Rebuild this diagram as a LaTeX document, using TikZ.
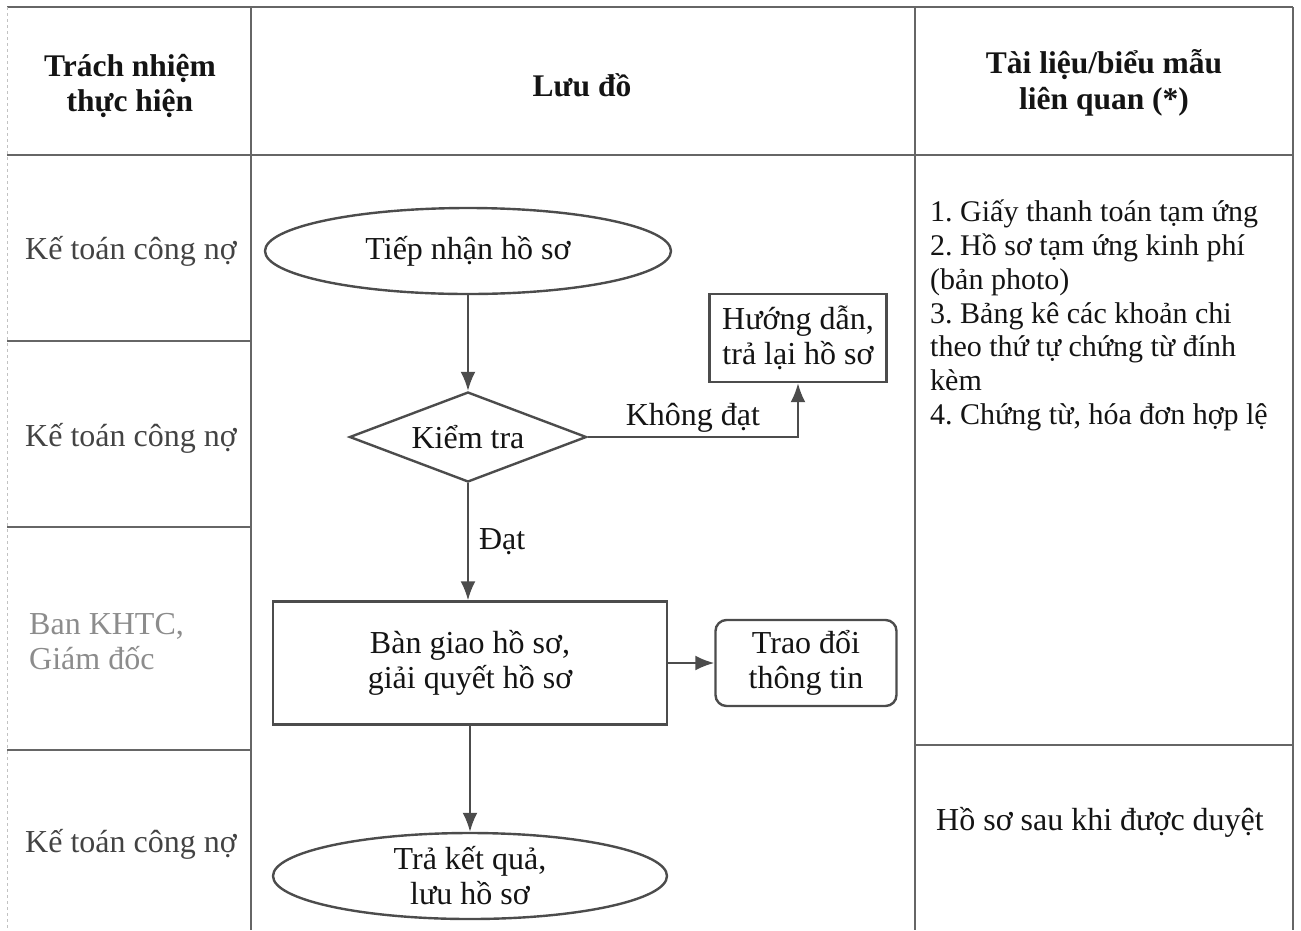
\documentclass[tikz,border=0pt]{standalone}
\usepackage{fontspec}
\setmainfont{Liberation Serif}
\usetikzlibrary{shapes.geometric, arrows.meta, positioning}
\definecolor{rulegray}{gray}{0.40}
\definecolor{edgegray}{gray}{0.30}
\definecolor{ink}{gray}{0.08}
\definecolor{paleink}{gray}{0.55}
\frenchspacing

\tikzset{
	txt/.style={font=\fontsize{32}{35}\selectfont, text=ink, align=center},
	headtxt/.style={font=\fontsize{31.5}{35.5}\selectfont\bfseries, text=ink, align=center},
	grid/.style={draw=rulegray, line width=1.6pt},
	terminal/.style={ellipse, draw=edgegray, line width=2.4pt, txt, inner sep=0pt},
	decision/.style={diamond, draw=edgegray, line width=2.4pt, txt, inner sep=0pt, aspect=2.6, minimum width=237pt, minimum height=90pt},
	process/.style={rectangle, draw=edgegray, line width=2.4pt, txt, inner sep=0pt},
	arr/.style={draw=edgegray, line width=2.2pt, -{Latex[length=19pt, width=15pt]}}
}

\begin{document}
\begin{tikzpicture}[x=1pt, y=-1pt]
	\useasboundingbox (0,0) rectangle (1301,930);
	
	% table
	\draw[grid] (7,7) -- (1293,7);
	\draw[grid] (7,155) -- (1293,155);
	\draw[grid] (251,7) -- (251,930);
	\draw[grid] (915,7) -- (915,930);
	\draw[grid] (1293,7) -- (1293,930);
	\draw[grid] (7,341) -- (251,341);
	\draw[grid] (7,527) -- (251,527);
	\draw[grid] (7,750) -- (251,750);
	\draw[grid] (915,745) -- (1293,745);
	\draw[draw=rulegray!40, line width=1pt, dashed] (7,7) -- (7,930);
	
	% headers
	\node[headtxt] (headresp) at (130,86) {Trách nhiệm\\thực hiện};
	\node[headtxt] (headflow) at (582,85) {Lưu đồ};
	\node[headtxt] (headdocs) at (1104,83) {Tài liệu/biểu mẫu\\liên quan (*)};
	
	% responsibility column
	\node[txt, text=ink!80] (resp1) at (131,251) {Kế toán công nợ};
	\node[txt, text=ink!80] (resp2) at (131,438) {Kế toán công nợ};
	\node[txt, text=paleink, align=left, anchor=west, inner sep=0pt] (resp3) at (29,642) {Ban KHTC,\\Giám đốc};
	\node[txt, text=ink!80] (resp4) at (131,844) {Kế toán công nợ};
	
	% flow chart
	\node[terminal, minimum width=406pt, minimum height=86pt] (start) at (468,251) {Tiếp nhận hồ sơ};
	\node[decision] (check) at (468,437) {Kiểm tra};
	\node[process, minimum width=177pt, minimum height=88pt] (guide) at (798,338) {Hướng dẫn,\\trả lại hồ sơ};
	\node[process, minimum width=394pt, minimum height=123pt] (handle) at (470,663) {Bàn giao hồ sơ,\\giải quyết hồ sơ};
	\node[process, rounded corners=11pt, minimum width=181pt, minimum height=86pt] (talk) at (806,663) {Trao đổi\\thông tin};
	\node[terminal, minimum width=394pt, minimum height=86pt] (finish) at (470,876) {Trả kết quả,\\lưu hồ sơ};
	
	\draw[arr] (start) -- (check);
	\draw[arr] (check.east) -| node[pos=0.25, above, txt, inner sep=4pt] {Không đạt} (guide.south);
	\draw[arr] (check) -- node[midway, right=6pt, txt, inner sep=4pt] {Đạt} (check |- handle.north);
	\draw[arr] (handle) -- (talk);
	\draw[arr] (handle) -- (finish);
	
	% documents column
	\node[txt, align=left, anchor=north west, inner sep=0pt, font=\fontsize{30}{33.7}\selectfont] (docs) at (930,200) {1. Giấy thanh toán tạm ứng\\2. Hồ sơ tạm ứng kinh phí\\(bản photo)\\3. Bảng kê các khoản chi\\theo thứ tự chứng từ đính\\kèm\\4. Chứng từ, hóa đơn hợp lệ};
	\node[txt] (docsfinal) at (1100,822) {Hồ sơ sau khi được duyệt};
\end{tikzpicture}
\end{document}
